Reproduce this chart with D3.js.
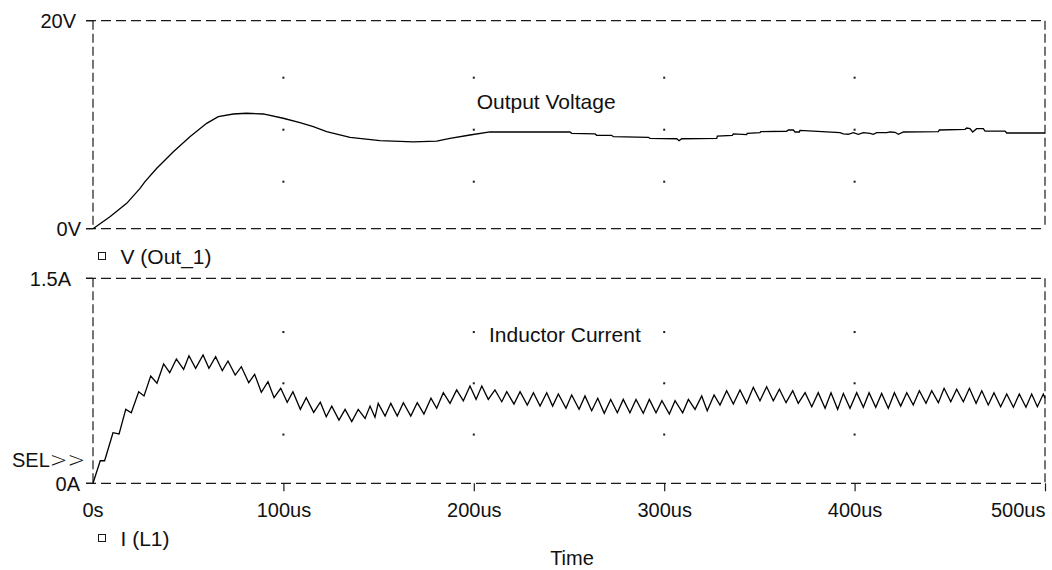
<!DOCTYPE html>
<html>
<head>
<meta charset="utf-8">
<script src="https://cdn.jsdelivr.net/npm/d3@7"></script>
<style>
  body { margin: 0; background: #fff; }
  svg text { font-family: "Liberation Sans", Arial, Helvetica, sans-serif; fill: #111; }
</style>
</head>
<body>
<div id="chart"></div>
<script>
// Time axis (us)
var timeTicks = [0, 100, 200, 300, 400, 500];
var timeLabels = ["0s", "100us", "200us", "300us", "400us", "500us"];
var gridTimes = [100, 200, 300, 400];

// V(Out_1)
var vTime = [0, 8.9, 17.7, 24.7, 27.3, 33.5, 42.2, 50.9, 59.7, 65.8, 73.7, 80.7, 89.4, 99.9, 108.7,
  115.7, 122.7, 135, 150.7, 168.2, 180.5, 187.5, 198, 208.5, 250.5, 251.4, 263.7, 264.5, 272.4, 273.3,
  291.7, 292.5, 306.6, 307.8, 309.2, 327.6, 327.9, 335.8, 336.3, 343.3, 343.6, 350.3, 350.7, 364.3, 365.2,
  367.8, 368.7, 371, 371.3, 392.3, 394.1, 396.7, 399.3, 402, 404.6, 408.1, 409.8, 411.6, 416.9, 418.6,
  421.2, 423, 425.6, 444, 444.5, 458, 458.9, 460.6, 462, 464.1, 467.6, 468.5, 479, 479.9, 500];
var vOut = [0, 1.15, 2.44, 3.88, 4.52, 5.81, 7.40, 8.85, 10.13, 10.77, 11.03, 11.10, 11.03, 10.62, 10.19,
  9.81, 9.33, 8.79, 8.46, 8.34, 8.43, 8.69, 9.01, 9.30, 9.30, 9.17, 9.11, 8.98, 8.98, 8.85,
  8.79, 8.69, 8.65, 8.46, 8.65, 8.69, 8.91, 8.98, 9.11, 9.04, 9.17, 9.23, 9.33, 9.37, 9.49,
  9.49, 9.30, 9.30, 9.46, 9.23, 9.11, 9.08, 9.23, 9.08, 9.23, 9.17, 9.08, 9.23, 9.23, 9.30,
  9.27, 9.08, 9.30, 9.33, 9.49, 9.56, 9.68, 9.62, 9.30, 9.62, 9.62, 9.39, 9.39, 9.20, 9.20];

// I(L1) ripple vertices
var iTime = [0, 3.8, 6.1, 10.5, 13.7, 17.2, 20.1, 24.0, 26.8, 30.3, 33.6, 37.1, 40.3, 43.8, 47.6,
  50.4, 53.9, 57.8, 60.9, 64.4, 67.9, 70.9, 74.7, 77.9, 81.8, 84.9, 88.4, 91.9, 95.1, 98.6,
  102.0, 105.0, 108.9, 112.0, 115.9, 119.4, 122.5,
  125.4, 129.2, 132.4, 135.9, 139.3, 142.9, 145.5, 148.1, 149.8, 153.4, 156.4, 159.8, 163.0, 166.9, 170.3,
  173.8, 177.5, 180.5, 184.0, 187.5, 191.0, 194.5, 198.0, 201.2, 204.2, 207.6, 211.1, 214.7, 217.3, 221.1,
  224.3, 228.1, 231.3, 234.8, 238.3, 241.4, 244.4,
  248.4, 251.4, 255.3, 258.4, 261.9, 265.1, 268.5, 271.9, 275.4, 278.5, 282.0, 285.2, 289.0, 292.2, 295.7,
  298.8, 302.7, 305.7, 309.7, 312.7, 316.2, 319.7, 322.6, 326.2, 329.3, 332.8, 336.3, 339.8, 343.3, 346.8,
  350.3, 353.8, 357.3, 360.5, 364.0, 367.5,
  370.4, 374.0, 377.5, 380.9, 384.5, 387.6, 391.1, 394.1, 397.6, 401.1, 404.6, 407.6, 411.1, 414.2, 417.7,
  420.9, 424.2, 427.4, 430.8, 434.0, 437.5, 440.5, 444.0, 447.0, 450.5, 453.6, 457.1, 460.3, 463.8, 466.8,
  470.2, 473.2, 476.7, 479.9, 483.4, 486.5, 490.0, 493.0, 496.0, 499.1, 500];
var iL1 = [0, 0.165, 0.165, 0.370, 0.361, 0.541, 0.516, 0.670, 0.639, 0.785, 0.732, 0.873, 0.809, 0.909, 0.834,
  0.933, 0.841, 0.939, 0.841, 0.926, 0.824, 0.895, 0.792, 0.853, 0.736, 0.797, 0.666, 0.743, 0.626, 0.695,
  0.593, 0.670, 0.541, 0.626, 0.519, 0.593, 0.487,
  0.565, 0.463, 0.541, 0.451, 0.541, 0.475, 0.565, 0.483, 0.585, 0.492, 0.585, 0.492, 0.590, 0.492, 0.590,
  0.507, 0.622, 0.549, 0.663, 0.585, 0.683, 0.604, 0.712, 0.614, 0.712, 0.614, 0.683, 0.597, 0.670, 0.580,
  0.670, 0.573, 0.663, 0.565, 0.663, 0.565, 0.653,
  0.549, 0.646, 0.541, 0.639, 0.531, 0.622, 0.512, 0.614, 0.516, 0.614, 0.516, 0.614, 0.512, 0.614, 0.516,
  0.604, 0.507, 0.604, 0.516, 0.614, 0.541, 0.639, 0.531, 0.646, 0.573, 0.677, 0.580, 0.683, 0.585, 0.702,
  0.604, 0.707, 0.604, 0.688, 0.590, 0.677,
  0.585, 0.663, 0.560, 0.663, 0.549, 0.663, 0.541, 0.658, 0.549, 0.663, 0.556, 0.663, 0.556, 0.658, 0.549,
  0.663, 0.565, 0.663, 0.573, 0.677, 0.585, 0.677, 0.590, 0.695, 0.597, 0.688, 0.597, 0.695, 0.585, 0.677,
  0.573, 0.663, 0.560, 0.653, 0.556, 0.653, 0.556, 0.653, 0.560, 0.653, 0.622];

// Chart layout
var svgWidth = 1052;
var svgHeight = 570;
var plotLeft = 93;
var plotRight = 1045;
var ink = "#1a1a1a";

var svg = d3.select("#chart")
  .append("svg")
  .attr("width", svgWidth)
  .attr("height", svgHeight);

var xScale = d3.scaleLinear()
  .domain([0, 500])
  .range([plotLeft, plotRight]);

var panels = [
  {
    top: 20.7, bottom: 228.7, domain: [0, 20], ticks: [0, 20], tickText: ["0V", "20V"], labelEnd: [81, 76],
    grid: [5, 10, 15], dotShift: 5, time: vTime, values: vOut,
    title: "Output Voltage", titleAt: [201.5, 11.5], legend: "V (Out_1)", legendY: 256
  },
  {
    top: 278.3, bottom: 483.3, domain: [0, 1.5], ticks: [0, 1.5], tickText: ["0A", "1.5A"], labelEnd: [80, 71],
    grid: [0.375, 0.75, 1.125], dotShift: 2.5, time: iTime, values: iL1,
    title: "Inductor Current", titleAt: [208, 1.036], legend: "I (L1)", legendY: 538
  }
];

panels.forEach(function(p, k) {
  var yScale = d3.scaleLinear().domain(p.domain).range([p.bottom, p.top]);
  var g = svg.append("g");

  // dashed frame
  g.selectAll("line.hframe")
    .data(p.ticks)
    .enter()
    .append("line")
    .attr("x1", plotLeft - 7)
    .attr("x2", plotRight)
    .attr("y1", d => yScale(d))
    .attr("y2", d => yScale(d))
    .attr("stroke", ink)
    .attr("stroke-width", 1.2)
    .attr("stroke-dasharray", "10,5");

  g.selectAll("line.vframe")
    .data([plotLeft, plotRight])
    .enter()
    .append("line")
    .attr("x1", d => d)
    .attr("x2", d => d)
    .attr("y1", p.top)
    .attr("y2", k === 1 ? p.bottom + 3 : p.bottom)
    .attr("stroke", ink)
    .attr("stroke-width", 1.2)
    .attr("stroke-dasharray", "9,4");

  // small solid tick stubs on the left
  g.selectAll("line.ystub")
    .data(p.ticks)
    .enter()
    .append("line")
    .attr("x1", plotLeft - 7)
    .attr("x2", plotLeft)
    .attr("y1", d => yScale(d))
    .attr("y2", d => yScale(d))
    .attr("stroke", ink)
    .attr("stroke-width", 1.2);

  // y tick labels
  g.selectAll("text.ylab")
    .data(p.ticks)
    .enter()
    .append("text")
    .attr("x", (d, i) => p.labelEnd[i])
    .attr("y", d => yScale(d) + 7.5)
    .attr("text-anchor", "end")
    .style("font-size", "20px")
    .text((d, i) => p.tickText[i]);

  // dotted grid points
  var dots = [];
  gridTimes.forEach(function(t) {
    p.grid.forEach(function(v) { dots.push([t, v]); });
  });
  g.selectAll("rect.dot")
    .data(dots)
    .enter()
    .append("rect")
    .attr("x", d => xScale(d[0]) - 1)
    .attr("y", d => yScale(d[1]) + p.dotShift - 1)
    .attr("width", 2)
    .attr("height", 2)
    .attr("fill", ink);

  // trace
  var line = d3.line()
    .x(d => xScale(d[0]))
    .y(d => yScale(d[1]));
  g.append("path")
    .datum(d3.zip(p.time, p.values))
    .attr("d", line)
    .attr("fill", "none")
    .attr("stroke", "#000")
    .attr("stroke-width", 1.3)
    .attr("stroke-linejoin", "miter");

  // trace title
  g.append("text")
    .attr("x", xScale(p.titleAt[0]))
    .attr("y", yScale(p.titleAt[1]))
    .style("font-size", "21px")
    .text(p.title);

  // legend entry
  g.append("rect")
    .attr("x", 98.5)
    .attr("y", p.legendY - 3.5)
    .attr("width", 7)
    .attr("height", 7)
    .attr("fill", "none")
    .attr("stroke", ink)
    .attr("stroke-width", 1);
  g.append("text")
    .attr("x", 120.5)
    .attr("y", p.legendY + 7.5)
    .style("font-size", "21px")
    .text(p.legend);

  if (k === 1) {
    // time axis under the lower plot
    var xAxis = d3.axisBottom(xScale)
      .tickValues(timeTicks.slice(1))
      .tickSize(8)
      .tickFormat((d) => timeLabels[timeTicks.indexOf(d)]);
    var ax = svg.append("g")
      .attr("transform", `translate(0, ${p.bottom})`)
      .call(xAxis);
    ax.select(".domain").remove();
    ax.selectAll("line").attr("stroke", ink).attr("stroke-width", 1.2);
    ax.selectAll("text")
      .attr("y", 33.5)
      .attr("dy", 0)
      .style("font-size", "20px")
      .style("font-family", "'Liberation Sans', Arial, sans-serif")
      .attr("fill", "#111");
    ax.selectAll("text")
      .filter(d => d === 500)
      .attr("text-anchor", "end");

    svg.append("text")
      .attr("x", xScale(0))
      .attr("y", p.bottom + 33.5)
      .attr("text-anchor", "middle")
      .style("font-size", "20px")
      .text(timeLabels[0]);

    svg.append("text")
      .attr("x", 12)
      .attr("y", 466.5)
      .style("font-size", "20px")
      .text("SEL")
      .append("tspan")
      .style("font-family", "'DejaVu Sans'")
      .style("font-weight", "200")
      .style("font-size", "21px")
      .text(">>");
  }
});

// x axis title
svg.append("text")
  .attr("x", 572)
  .attr("y", 565)
  .attr("text-anchor", "middle")
  .style("font-size", "20px")
  .text("Time");
</script>
</body>
</html>
